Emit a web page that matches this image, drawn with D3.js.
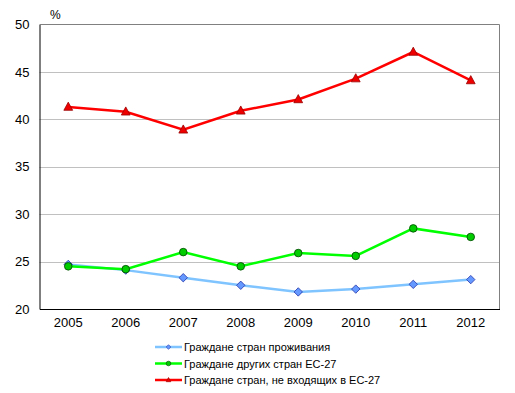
<!DOCTYPE html>
<html><head><meta charset="utf-8">
<script src="https://cdn.jsdelivr.net/npm/d3@7"></script>
<style>body{margin:0;background:#fff}svg{display:block;font-family:"Liberation Sans",Arial,sans-serif}</style>
</head><body>
<svg id="c" width="515" height="393"></svg>
<script>
const years = ["2005","2006","2007","2008","2009","2010","2011","2012"];
const yTicks = [20,25,30,35,40,45,50];
const residence = [24.7,24.1,23.3,22.5,21.8,22.1,22.6,23.1];
const otherEU = [24.5,24.2,26.0,24.5,25.9,25.6,28.5,27.6];
const nonEU = [41.3,40.8,38.9,40.9,42.1,44.3,47.1,44.1];
const seriesNames = ["Граждане стран проживания","Граждане других стран ЕС-27","Граждане стран, не входящих в ЕС-27"];

const svg = d3.select("#c");
const L=39.5, R=499.5, T=24.5, B=309;
const x = d3.scaleBand().domain(years).range([L,R]);
const y = d3.scaleLinear().domain([20,50]).range([B,T]);

svg.append("g").selectAll("line").data(yTicks.filter(d=>d>20&&d<50)).join("line")
  .attr("x1",L).attr("x2",R).attr("y1",d=>Math.round(y(d))+0.5).attr("y2",d=>Math.round(y(d))+0.5)
  .attr("stroke","#c0c0c0").attr("stroke-width",1);
svg.append("path").attr("d",`M${L},${T}H${R}V${B}`).attr("fill","none").attr("stroke","#808080");
const ya = svg.append("g").attr("transform",`translate(${L},0)`).call(d3.axisLeft(y).tickValues(yTicks).tickSize(0).tickPadding(10));
ya.select(".domain").attr("stroke","#000");
ya.selectAll("text").attr("font-size",13).attr("fill","#000").attr("font-family","Liberation Sans, Arial, sans-serif");
const xa = svg.append("g").attr("transform",`translate(0,${B})`).call(d3.axisBottom(x).tickSize(0).tickPadding(9));
xa.select(".domain").attr("stroke","#000");
xa.selectAll("text").attr("font-size",13).attr("fill","#000").attr("font-family","Liberation Sans, Arial, sans-serif");

svg.append("text").attr("x",50).attr("y",19).attr("font-size",12).text("%");

const line = d3.line().x((d,i)=>x(years[i])+x.bandwidth()/2).y(d=>y(d));
const cx = (d,i)=>x(years[i])+x.bandwidth()/2;

const specs = [
 {data:residence, color:"#7fc4ff", fill:"#6699ff", stroke:"#2233aa", shape:"diamond", size:4.2},
 {data:otherEU, color:"#00ff00", fill:"#00cc00", stroke:"#004400", shape:"circle", size:3.8},
 {data:nonEU, color:"#ff0000", fill:"#ee0000", stroke:"#990000", shape:"triangle", size:4.4}
];
function marker(g, shape, px, py, s){
  if(shape==="diamond") g.append("path").attr("d",`M${px},${py-s}L${px+s},${py}L${px},${py+s}L${px-s},${py}Z`);
  else if(shape==="circle") g.append("circle").attr("cx",px).attr("cy",py).attr("r",s);
  else g.append("path").attr("d",`M${px},${py-s*1.1}L${px+s},${py+s*0.75}L${px-s},${py+s*0.75}Z`);
}
specs.forEach(s=>{
  svg.append("path").datum(s.data).attr("d",line).attr("fill","none").attr("stroke",s.color).attr("stroke-width",2.5);
  const g = svg.append("g").attr("fill",s.fill).attr("stroke",s.stroke).attr("stroke-width",0.8);
  s.data.forEach((d,i)=>marker(g,s.shape,cx(d,i),y(d),s.size));
});

const lg = svg.append("g");
specs.forEach((s,i)=>{
  const yy = 347 + i*16.5;
  lg.append("line").attr("x1",155).attr("x2",182).attr("y1",yy).attr("y2",yy).attr("stroke",s.color).attr("stroke-width",2.5);
  const g = lg.append("g").attr("fill",s.fill).attr("stroke",s.stroke).attr("stroke-width",0.6);
  marker(g,s.shape,168.5,yy,2.3);
  lg.append("text").attr("x",184).attr("y",yy+4).attr("font-size",11).text(seriesNames[i]);
});
</script>
</body></html>
